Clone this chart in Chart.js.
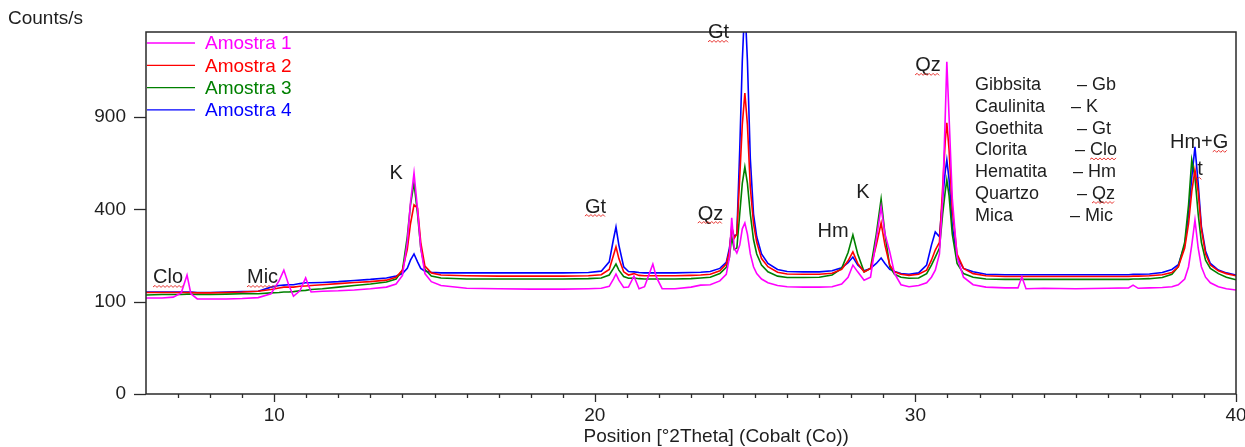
<!DOCTYPE html>
<html><head><meta charset="utf-8">
<script src="https://cdn.jsdelivr.net/npm/chart.js@4.4.1/dist/chart.umd.min.js"></script>
<style>html,body{margin:0;padding:0;background:#fff;}canvas{display:block;}</style>
</head><body>
<canvas id="c" width="1245" height="447"></canvas>
<script>
// ---- DATA ----
const positions = [6.0,6.5,6.85,7.1,7.28,7.4,7.6,8.0,8.5,9.0,9.5,9.9,10.15,10.3,10.45,10.6,10.8,10.98,11.15,11.5,
12.0,12.5,13.0,13.5,13.8,14.0,14.15,14.25,14.36,14.47,14.57,14.7,14.9,15.2,16.0,17.0,18.0,19.0,19.8,20.2,
20.45,20.58,20.66,20.75,20.9,21.05,21.22,21.38,21.55,21.7,21.81,21.92,22.1,22.5,23.0,23.3,23.6,23.9,24.1,24.2,
24.27,24.35,24.43,24.52,24.6,24.68,24.76,24.85,24.95,25.05,25.2,25.4,25.7,26.0,26.5,27.0,27.4,27.7,27.9,28.05,
28.2,28.4,28.6,28.78,28.93,29.05,29.2,29.35,29.55,29.8,30.1,30.35,30.5,30.62,30.75,30.85,30.93,30.98,31.05,31.15,
31.3,31.5,31.8,32.2,32.8,33.2,33.32,33.45,34.0,35.0,36.0,36.65,36.79,36.95,37.3,37.7,38.0,38.2,38.4,38.52,
38.62,38.72,38.82,38.92,39.05,39.2,39.45,39.7,40.0];
const amostra1 = [108,108,110,120,166,118,106,106,106,107,109,118,150,180,140,112,125,158,122,124,
125,127,130,134,142,165,270,430,573,400,250,170,148,138,131,130,129,129,130,131,
136,155,169,152,133,134,163,130,135,170,198,160,130,130,134,139,140,150,168,220,
364,250,233,260,320,343,300,230,190,170,155,145,138,135,134,134,135,142,160,195,
175,152,160,280,410,300,237,170,140,135,138,145,160,180,230,450,900,1294,900,450,
220,160,140,134,132,132,161,130,131,130,131,132,139,131,132,133,135,140,155,190,
260,355,250,190,160,145,135,130,127];
const amostra2 = [121,121,121,121,121,121,120,120,121,122,124,128,132,134,134,134,136,137,138,140,
143,146,148,152,160,180,245,340,420,405,270,192,172,166,164,163,163,163,164,167,
182,225,254,215,175,166,170,165,164,164,164,164,164,164,165,166,168,178,198,240,
330,285,300,550,850,1063,850,500,340,270,215,190,174,169,168,168,171,182,208,237,
200,175,185,260,343,260,195,175,168,165,168,180,210,243,270,500,750,862,700,400,
230,185,170,164,162,162,162,162,162,162,162,162,163,163,164,167,173,190,250,340,
480,589,480,320,230,195,178,170,164];
const amostra3 = [115,116,116,116,117,117,116,116,117,118,118,120,121,122,122,123,125,126,128,130,
134,138,142,147,155,180,290,420,523,380,250,182,163,158,155,155,155,155,156,158,
166,185,198,180,162,157,158,156,155,155,155,155,155,155,156,158,160,170,188,220,
290,245,250,380,520,605,520,380,280,230,195,175,163,159,159,160,166,185,235,297,
230,175,185,300,446,300,190,168,160,157,158,170,195,220,250,380,480,538,460,300,
200,170,160,155,154,154,154,154,154,154,154,154,155,155,156,159,168,190,270,420,
643,550,380,270,210,185,170,160,153];
const amostra4 = [122,122,122,122,122,122,121,121,122,123,124,134,138,139,140,140,143,145,145,146,
148,151,154,158,163,170,185,210,230,205,185,177,174,172,172,172,172,172,173,177,
205,280,327,260,190,176,175,173,172,172,172,172,172,172,173,174,176,185,203,250,
320,290,300,700,1300,1800,1300,650,380,290,230,200,182,176,175,175,178,187,202,220,
195,178,185,200,217,200,182,176,170,168,172,195,260,308,290,450,580,643,540,330,
220,185,175,168,167,167,167,167,167,167,167,167,168,168,169,173,182,196,260,380,
550,716,520,330,240,200,180,172,166];
const seriesNames = ['Amostra 1','Amostra 2','Amostra 3','Amostra 4'];
const seriesColors = ['#ff00ff','#ff0000','#008000','#0000ff'];
const xTickValues = [10,20,30,40];
const yTickValues = [0,100,400,900];
const minerals = ['Gibbsita','Caulinita','Goethita','Clorita','Hematita','Quartzo','Mica'];
const mineralCodes = ['Gb','K','Gt','Clo','Hm','Qz','Mic'];
const peakLabels = ['Clo','Mic','K','Gt','Qz','Gt','Hm','K','Qz','Hm+G','t'];
const peakLabelPos = [[6.22,158],[9.15,158],[13.8,568],[20.02,410],[23.61,380],[23.86,1530],[27.43,308],[28.36,474],[30.39,1263],[37.94,740],[38.88,589]];

// ---- sqrt scale ----
class SqrtScale extends Chart.LinearScale {
  configure(){
    super.configure();
    this._sMin = Math.sqrt(Math.max(this.min,0));
    this._sRange = Math.sqrt(this.max) - this._sMin;
  }
  getPixelForValue(v){
    if (v === null || v === undefined || isNaN(v)) return NaN;
    return this.getPixelForDecimal((Math.sqrt(Math.max(v,0)) - this._sMin)/this._sRange);
  }
  getValueForPixel(p){
    const s = this._sMin + this.getDecimalForPixel(p)*this._sRange;
    return s*s;
  }
}
SqrtScale.id = 'sqrt';
SqrtScale.defaults = Chart.LinearScale.defaults;
Chart.register(SqrtScale);

const FONT = "'Liberation Sans', Arial, sans-serif";
const TXT = '#1e1e1e';

function wavy(ctx, x1, x2, y){
  ctx.save();
  ctx.strokeStyle = '#e8322e'; ctx.lineWidth = 1;
  ctx.beginPath();
  let up = true;
  ctx.moveTo(x1, y);
  for (let x = x1 + 2; x <= x2; x += 2){ ctx.lineTo(x, up ? y - 1.5 : y + 0.5); up = !up; }
  ctx.stroke();
  ctx.restore();
}

const wavyLabels = {0:'all',1:'all',3:'all',4:'all',5:'all',8:'all',9:'last',10:'all'};

const decor = {
  id: 'decor',
  afterDraw(chart){
    const ctx = chart.ctx, a = chart.chartArea;
    const xs = chart.scales.x, ys = chart.scales.y;
    ctx.save();
    // frame
    ctx.strokeStyle = '#2a2a2a'; ctx.lineWidth = 1.5;
    ctx.strokeRect(a.left, a.top, a.right - a.left, a.bottom - a.top);
    // x ticks
    ctx.lineWidth = 1.3;
    for (let v = 7; v <= 40; v++){
      const px = Math.round(xs.getPixelForValue(v)) + 0.5;
      const len = (v % 10 === 0) ? 8 : 4;
      ctx.beginPath(); ctx.moveTo(px, a.bottom); ctx.lineTo(px, a.bottom + len); ctx.stroke();
    }
    // y ticks
    yTickValues.forEach(v => {
      const py = Math.round(ys.getPixelForValue(v)) + 0.5;
      ctx.beginPath(); ctx.moveTo(a.left - 12, py); ctx.lineTo(a.left, py); ctx.stroke();
    });
    // axis titles
    ctx.fillStyle = TXT; ctx.font = '19px ' + FONT; ctx.textBaseline = 'middle'; ctx.textAlign = 'left';
    ctx.fillText('Counts/s', 8, 19);
    ctx.fillText('Position [°2Theta] (Cobalt (Co))', xs.getPixelForValue(19.65), 437);
    // legend
    chart.data.datasets.forEach((ds, i) => {
      const y = a.top + 11 + i * 22.3;
      ctx.strokeStyle = ds.borderColor; ctx.lineWidth = 1.3;
      ctx.beginPath(); ctx.moveTo(a.left + 1, y); ctx.lineTo(a.left + 49, y); ctx.stroke();
      ctx.fillStyle = ds.borderColor; ctx.font = '19px ' + FONT;
      ctx.fillText(ds.label, a.left + 59, y + 1);
    });
    // peak labels
    ctx.font = '20px ' + FONT; ctx.fillStyle = TXT;
    peakLabels.forEach((t, i) => {
      const p = peakLabelPos[i];
      const px = xs.getPixelForValue(p[0]), py = ys.getPixelForValue(p[1]);
      const alignLeft = (i === 0 || i === 1 || i === 9);
      ctx.textAlign = alignLeft ? 'left' : 'center';
      ctx.fillStyle = TXT;
      ctx.fillText(t, px, py);
      const w = ctx.measureText(t).width;
      const x1 = alignLeft ? px : px - w/2;
      if (wavyLabels[i] === 'all') wavy(ctx, x1, x1 + w, py + 9);
      else if (wavyLabels[i] === 'last'){ const wl = ctx.measureText('G').width; wavy(ctx, x1 + w - wl, x1 + w, py + 9); }
    });
    // mineral key
    ctx.font = '18px ' + FONT; ctx.textAlign = 'left'; ctx.fillStyle = TXT;
    const dashX = [1077,1071,1077,1075,1073,1077,1070];
    minerals.forEach((m, i) => {
      const y = a.top + 53 + i * 21.8;
      ctx.fillText(m, 975, y);
      const s = '– ' + mineralCodes[i];
      ctx.fillText(s, dashX[i], y);
      if (mineralCodes[i] === 'Clo' || mineralCodes[i] === 'Qz'){
        const w0 = ctx.measureText('– ').width, w1 = ctx.measureText(mineralCodes[i]).width;
        wavy(ctx, dashX[i] + w0, dashX[i] + w0 + w1, y + 9);
      }
    });
    ctx.restore();
  }
};

const datasets = [amostra1, amostra2, amostra3, amostra4].map((vals, i) => ({
  label: seriesNames[i],
  data: positions.map((x, k) => ({x: x, y: vals[k]})),
  borderColor: seriesColors[i],
  backgroundColor: seriesColors[i],
  borderWidth: 1.6,
  pointRadius: 0,
  tension: 0,
  fill: false
}));

new Chart(document.getElementById('c'), {
  type: 'line',
  data: { datasets },
  options: {
    responsive: false,
    animation: false,
    devicePixelRatio: 1,
    layout: { padding: { left: 0, right: 9, top: 32, bottom: 0 } },
    plugins: { legend: { display: false }, tooltip: { enabled: false } },
    scales: {
      x: {
        type: 'linear', min: 6, max: 40,
        grid: { display: false, drawTicks: false },
        border: { display: false },
        ticks: { padding: 10, color: TXT, font: { family: FONT, size: 19 }, maxRotation: 0 },
        afterBuildTicks: s => { s.ticks = xTickValues.map(v => ({ value: v })); },
        afterFit: s => { s.height = 53; s.paddingLeft = 0; s.paddingRight = 0; }
      },
      y: {
        type: 'sqrt', min: 0, max: 1537,
        grid: { display: false, drawTicks: false },
        border: { display: false },
        ticks: { padding: 20, color: TXT, font: { family: FONT, size: 19 } },
        afterBuildTicks: s => { s.ticks = yTickValues.map(v => ({ value: v })); },
        afterFit: s => { s.width = 146; s.paddingTop = 0; s.paddingBottom = 0; }
      }
    }
  },
  plugins: [decor]
});
</script>
</body></html>
